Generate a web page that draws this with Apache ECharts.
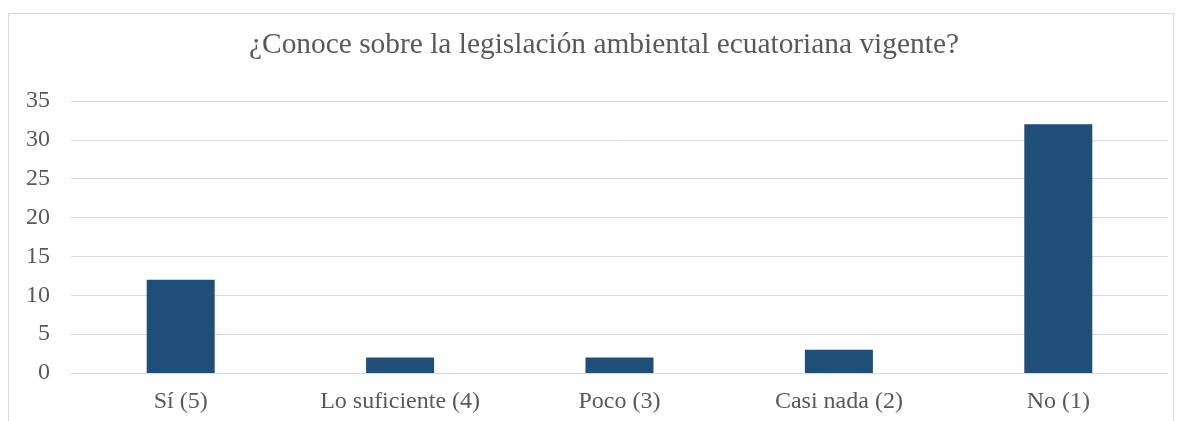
<!DOCTYPE html>
<html>
<head>
<meta charset="utf-8">
<script src="https://cdn.jsdelivr.net/npm/echarts@6/dist/echarts.min.js"></script>
<style>
  html, body { margin: 0; padding: 0; background: #fff; }
  #wrap { position: relative; width: 1185px; height: 421px; overflow: hidden; }
  #frame { position: absolute; left: 8px; top: 13px; width: 1164px; height: 440px; border: 1px solid #d9d9d9; }
  #chart { position: absolute; left: 0; top: 0; width: 1185px; height: 421px; }
</style>
</head>
<body>
<div id="wrap">
  <div id="frame"></div>
  <div id="chart"></div>
</div>
<script>
// legislación ambiental - respuestas
var categories = ['Sí (5)', 'Lo suficiente (4)', 'Poco (3)', 'Casi nada (2)', 'No (1)'];
var values = [12, 2, 2, 3, 32];
var chartTitle = '¿Conoce sobre la legislación ambiental ecuatoriana vigente?';

var chart = echarts.init(document.getElementById('chart'));
var option = {
    animation: false,
    title: {
        text: chartTitle,
        left: 244,
        top: 26,
        textStyle: {
            fontFamily: 'Liberation Serif',
            fontSize: 29.4,
            fontWeight: 'normal',
            color: '#595959'
        }
    },
    grid: {
        left: 71,
        right: 17,
        top: 101,
        bottom: 48
    },
    xAxis: {
        type: 'category',
        data: categories,
        axisLine: { lineStyle: { color: '#d9d9d9' } },
        axisTick: { show: false },
        axisLabel: {
            margin: 17,
            fontFamily: 'Liberation Serif',
            fontSize: 24,
            color: '#595959'
        }
    },
    yAxis: {
        type: 'value',
        min: 0,
        max: 35,
        interval: 5,
        axisLine: { show: false },
        axisTick: { show: false },
        splitLine: { lineStyle: { color: '#d9d9d9', width: 1 } },
        axisLabel: {
            margin: 21,
            fontFamily: 'Liberation Serif',
            fontSize: 24,
            color: '#595959'
        }
    },
    series: [
        {
            type: 'bar',
            data: values,
            barWidth: '31%',
            itemStyle: { color: '#1f4e79' }
        }
    ]
};
chart.setOption(option);
</script>
</body>
</html>
